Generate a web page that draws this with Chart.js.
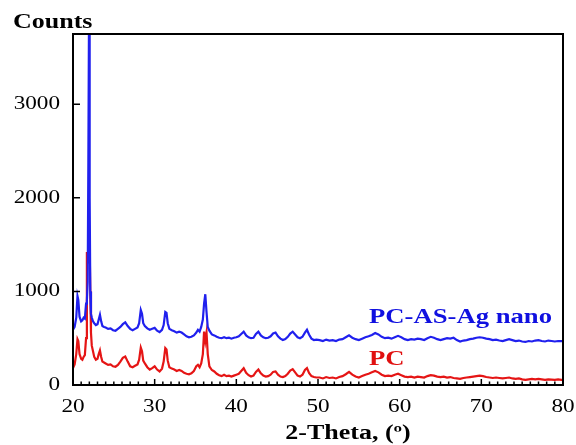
<!DOCTYPE html>
<html>
<head>
<meta charset="utf-8">
<script src="https://cdn.jsdelivr.net/npm/chart.js@4.4.1/dist/chart.umd.min.js"></script>
<style>
  html, body { margin: 0; padding: 0; background: #fff; }
  #wrap { width: 576px; height: 445px; }
</style>
</head>
<body>
<div id="wrap"><canvas id="xrdChart"></canvas></div>
<script>
// 2-theta positions (deg)
const twoTheta = [
  20.0, 20.2, 20.4, 20.55, 20.65, 20.8, 21.0, 21.15, 21.3, 21.45,
  21.6, 21.7, 21.8, 21.88, 21.96, 22.04, 22.12, 22.2, 22.3, 22.45,
  22.6, 22.8, 23.0, 23.15, 23.3, 23.45, 23.6, 23.8,
  24.0, 24.3, 24.6, 24.9, 25.2, 25.5, 25.8, 26.1, 26.4, 26.7,
  27.0, 27.3, 27.6, 27.9, 28.1, 28.3, 28.45, 28.6, 28.8, 29.1,
  29.4, 29.7, 30.0, 30.3, 30.6, 30.9, 31.1, 31.3, 31.45, 31.6,
  31.8, 32.1, 32.4, 32.7, 33.0, 33.3, 33.6, 33.9, 34.2, 34.5,
  34.8, 35.1, 35.3, 35.5, 35.7, 35.9, 36.05, 36.2, 36.35, 36.5,
  36.7, 37.0, 37.3, 37.6, 37.9, 38.2, 38.5, 38.8, 39.1, 39.4,
  39.7, 40.0, 40.3, 40.6, 40.9, 41.2, 41.5, 41.8, 42.1, 42.4,
  42.7, 43.0, 43.3, 43.6, 43.9, 44.2, 44.5, 44.8, 45.1, 45.4,
  45.7, 46.0, 46.3, 46.6, 46.9, 47.2, 47.5, 47.8, 48.1, 48.4,
  48.65, 48.9, 49.2, 49.5, 49.8,
  50.2, 50.6, 51.0, 51.4, 51.8, 52.2, 52.6, 53.0, 53.4, 53.8,
  54.2, 54.6, 55.0, 55.4, 55.8, 56.2, 56.6, 57.0, 57.4, 57.8,
  58.2, 58.6, 59.0, 59.4, 59.8, 60.2, 60.6, 61.0, 61.4, 61.8,
  62.2, 62.6, 63.0, 63.4, 63.8, 64.2, 64.6, 65.0, 65.4, 65.8,
  66.2, 66.6, 67.0, 67.4, 67.8, 68.2, 68.6, 69.0, 69.4, 69.8,
  70.2, 70.6, 71.0, 71.4, 71.8, 72.2, 72.6, 73.0, 73.4, 73.8,
  74.2, 74.6, 75.0, 75.4, 75.8, 76.2, 76.6, 77.0, 77.4, 77.8,
  78.2, 78.6, 79.0, 79.4, 79.8, 80.0
];

// counts, PC-AS-Ag nano (blue)
const pcAsAgNano = [
  590, 620, 720, 950, 910, 730, 680, 690, 720, 710,
  870, 900, 1100, 2380, 3950, 2000, 1000, 760, 720, 680,
  660, 640, 650, 700, 750, 680, 630, 620,
  615, 600, 605, 585, 580, 600, 620, 650, 670, 630,
  600, 585, 600, 615, 660, 800, 760, 660, 630, 605,
  590, 600, 610, 580, 565, 590, 640, 780, 770, 660,
  600, 585, 575, 560, 570, 560, 540, 520, 510, 515,
  530, 560, 590, 570, 620, 700, 870, 970, 780, 620,
  580, 540, 530, 515, 505, 500, 510, 500, 505, 495,
  505, 510, 520, 545, 570, 530, 510, 500, 505, 545,
  570, 530, 510, 500, 505, 520, 550, 560, 520, 495,
  480, 490, 515, 550, 570, 540, 510, 500, 515, 560,
  590, 540, 495, 480, 485,
  480, 470, 485, 475, 480, 470, 485, 490, 510, 530,
  505, 490, 480, 495, 510, 520, 535, 555, 540, 515,
  500, 505, 495, 510, 525, 510, 490, 480, 490, 485,
  495, 490, 480, 500, 515, 505, 490, 480, 490, 500,
  495, 505, 480, 465, 475, 480, 490, 495, 505, 510,
  505, 495, 490, 480, 485, 475, 470, 480, 490, 480,
  470, 475, 465, 460, 470, 465, 475, 480, 470, 465,
  475, 470, 465, 470, 468, 470
];

// counts, PC (red)
const pc = [
  180, 220, 330, 490, 470, 330, 280, 270, 300, 320,
  500, 1420, 1350, 1300, 1470, 1450, 1000, 560, 420, 360,
  300, 270, 280, 330, 370, 300, 250, 240,
  230, 215, 220, 200, 195, 215, 250, 290, 305, 250,
  200, 190, 205, 220, 270, 400, 360, 260, 230, 190,
  165, 180, 200, 165, 145, 175, 250, 395, 380, 260,
  190, 175, 165, 150, 160, 150, 130, 120, 115, 125,
  150, 200, 215, 190, 230, 330, 570, 470, 560, 330,
  200, 160, 145, 120, 105, 95, 110, 95, 100, 90,
  100, 110, 120, 150, 180, 130, 105, 90, 100, 140,
  165, 125, 100, 90, 95, 110, 140, 145, 110, 90,
  85, 95, 120, 155, 170, 135, 100, 90, 110, 160,
  180, 130, 95, 85, 80,
  80, 70, 85, 75, 80, 70, 85, 95, 115, 140,
  110, 90, 80, 95, 110, 120, 135, 150, 135, 110,
  95, 100, 95, 110, 120, 105, 90, 85, 90, 80,
  90, 85, 80, 95, 105, 100, 90, 85, 90, 80,
  85, 75, 70, 65, 75, 80, 85, 90, 95, 100,
  95, 85, 80, 75, 80, 75, 70, 75, 80, 70,
  65, 70, 60, 55, 60, 65, 60, 65, 60, 55,
  60, 58, 55, 60, 55, 55
];

const xTicks = [20, 30, 40, 50, 60, 70, 80];
const yTicks = [0, 1000, 2000, 3000];

const serif = '"Liberation Serif", "Times New Roman", serif';

function stretchText(ctx, text, x, y, align, sx) {
  ctx.save();
  ctx.translate(x, y);
  ctx.scale(sx, 1);
  ctx.textAlign = align;
  ctx.fillText(text, 0, 0);
  ctx.restore();
}

// frame, inward ticks and all the text
const framePlugin = {
  id: 'frame',
  afterDraw(chart) {
    const { ctx, chartArea: a, scales: { x, y } } = chart;
    ctx.save();
    ctx.strokeStyle = '#000';
    ctx.lineWidth = 2;
    ctx.strokeRect(a.left, a.top, a.right - a.left, a.bottom - a.top);

    // x ticks (minor every 1 deg)
    ctx.lineWidth = 1.5;
    ctx.beginPath();
    for (let v = x.min + 1; v < x.max; v++) {
      const px = x.getPixelForValue(v);
      const len = xTicks.includes(v) ? 6 : 3.5;
      ctx.moveTo(px, a.bottom);
      ctx.lineTo(px, a.bottom - len);
    }
    yTicks.forEach(v => {
      if (v === 0) return;
      const py = y.getPixelForValue(v);
      ctx.moveTo(a.left, py);
      ctx.lineTo(a.left + 7, py);
    });
    ctx.stroke();

    ctx.fillStyle = '#000';
    ctx.font = '19px ' + serif;
    ctx.textBaseline = 'middle';
    yTicks.forEach(v => {
      stretchText(ctx, String(v), 60, y.getPixelForValue(v), 'right', 1.22);
    });
    ctx.textBaseline = 'alphabetic';
    xTicks.forEach(v => {
      stretchText(ctx, String(v), x.getPixelForValue(v), 412, 'center', 1.22);
    });

    ctx.font = 'bold 20px ' + serif;
    stretchText(ctx, 'Counts', 13, 28, 'left', 1.3);
    stretchText(ctx, '2-Theta, (º)', 348, 439, 'center', 1.3);

    const ds = chart.data.datasets;
    ctx.font = 'bold 21px ' + serif;
    ctx.fillStyle = '#1010e0';
    stretchText(ctx, ds[0].label, 369, 323, 'left', 1.27);
    ctx.fillStyle = '#e01010';
    stretchText(ctx, ds[1].label, 369, 365, 'left', 1.27);
    ctx.restore();
  }
};

new Chart(document.getElementById('xrdChart'), {
  type: 'line',
  data: {
    datasets: [
      {
        label: 'PC-AS-Ag nano',
        data: twoTheta.map((t, i) => ({ x: t, y: pcAsAgNano[i] })),
        borderColor: '#2020ee',
        borderWidth: 2.2,
        pointRadius: 0,
        tension: 0
      },
      {
        label: 'PC',
        data: twoTheta.map((t, i) => ({ x: t, y: pc[i] })),
        borderColor: '#e51515',
        borderWidth: 2.2,
        pointRadius: 0,
        tension: 0
      }
    ]
  },
  options: {
    responsive: true,
    maintainAspectRatio: false,
    animation: false,
    devicePixelRatio: 1,
    layout: { padding: { top: 34, right: 13, left: 0, bottom: 0 } },
    plugins: {
      legend: { display: false },
      tooltip: { enabled: false }
    },
    scales: {
      x: {
        type: 'linear',
        min: 20,
        max: 80,
        ticks: { display: false, stepSize: 10 },
        grid: { display: false },
        border: { display: false },
        afterFit: s => { s.height = 60; }
      },
      y: {
        min: 0,
        max: 3750,
        ticks: { display: false, stepSize: 1000 },
        grid: { display: false },
        border: { display: false },
        afterFit: s => { s.width = 73; }
      }
    }
  },
  plugins: [framePlugin]
});
</script>
</body>
</html>
